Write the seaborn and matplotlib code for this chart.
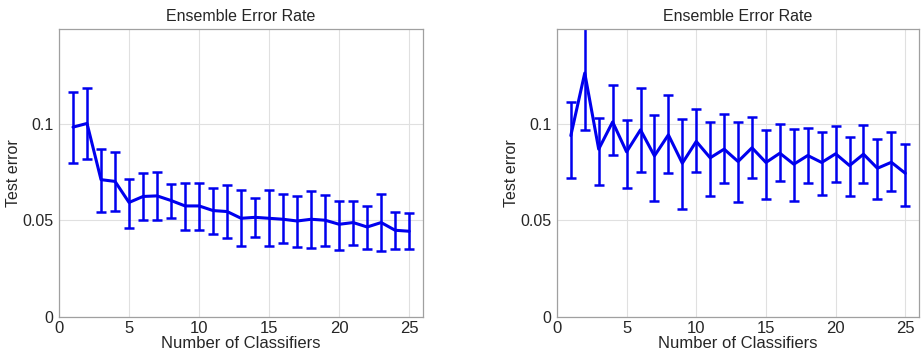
import numpy as np
import pandas as pd
import seaborn as sns
import matplotlib.pyplot as plt

# number of classifiers in the ensemble
n_classifiers = list(range(1, 26))

# left panel: mean test error with lower / upper error bar ends
left_mean = [0.0983, 0.1002, 0.0711, 0.0702, 0.0593, 0.0624, 0.0627, 0.0603, 0.0575, 0.0575,
             0.0551, 0.0546, 0.0511, 0.0516, 0.0511, 0.0506, 0.0497, 0.0506, 0.0501, 0.0480,
             0.0489, 0.0466, 0.0489, 0.0449, 0.0444]
left_upper = [0.1166, 0.1185, 0.0872, 0.0854, 0.0716, 0.0745, 0.0752, 0.0688, 0.0695, 0.0695,
              0.0666, 0.0681, 0.0657, 0.0617, 0.0655, 0.0636, 0.0626, 0.0652, 0.0634, 0.0603,
              0.0603, 0.0575, 0.0638, 0.0544, 0.0539]
left_lower = [0.0795, 0.0816, 0.0546, 0.0549, 0.0461, 0.0504, 0.0503, 0.0510, 0.0451, 0.0451,
              0.0430, 0.0409, 0.0367, 0.0414, 0.0367, 0.0385, 0.0362, 0.0357, 0.0366, 0.0348,
              0.0374, 0.0354, 0.0343, 0.0352, 0.0352]

# right panel
right_mean = [0.0939, 0.1263, 0.0869, 0.1010, 0.0855, 0.0969, 0.0834, 0.0943, 0.0796, 0.0909,
              0.0824, 0.0869, 0.0805, 0.0876, 0.0800, 0.0848, 0.0791, 0.0836, 0.0800, 0.0845,
              0.0784, 0.0843, 0.0770, 0.0801, 0.0744]
right_upper = [0.1115, 0.1530, 0.1030, 0.1199, 0.1019, 0.1188, 0.1047, 0.1150, 0.1026, 0.1078,
               0.1010, 0.1051, 0.1007, 0.1037, 0.0970, 0.0997, 0.0972, 0.0981, 0.0958, 0.0991,
               0.0930, 0.0993, 0.0922, 0.0958, 0.0897]
right_lower = [0.0721, 0.0967, 0.0683, 0.0841, 0.0669, 0.0753, 0.0598, 0.0744, 0.0559, 0.0753,
               0.0624, 0.0695, 0.0594, 0.0718, 0.0611, 0.0704, 0.0598, 0.0695, 0.0632, 0.0700,
               0.0627, 0.0695, 0.0613, 0.0653, 0.0573]

x_ticks = [0, 5, 10, 15, 20, 25]
y_ticks = [0, 0.05, 0.1]
y_tick_labels = ['0', '0.05', '0.1']

sns.set_style('whitegrid')
plt.rcParams['font.family'] = ['Liberation Sans', 'DejaVu Sans']

fig = plt.figure(figsize=(9.22, 3.58), dpi=100)
ax_left = fig.add_axes([0.064, 0.1145, 0.395, 0.804])
ax_right = fig.add_axes([0.604, 0.1145, 0.393, 0.804])

blue = '#0000ee'


def draw_panel(ax, mean, lower, upper):
    df = pd.DataFrame({'n': n_classifiers, 'err': mean})
    sns.lineplot(ax=ax, data=df, x='n', y='err', color=blue, linewidth=2.2)
    yerr = [np.array(mean) - np.array(lower), np.array(upper) - np.array(mean)]
    ax.errorbar(n_classifiers, mean, yerr=yerr, fmt='none', ecolor=blue,
                elinewidth=1.8, capsize=3.5, capthick=1.8)
    ax.set_xlim(0, 26)
    ax.set_ylim(0, 0.149)
    ax.set_xticks(x_ticks)
    ax.set_yticks(y_ticks)
    ax.set_yticklabels(y_tick_labels)
    ax.tick_params(axis='x', labelsize=12, pad=3, length=0)
    ax.tick_params(axis='y', labelsize=11.5, pad=4, length=0)
    ax.grid(True, color='#e0e0e0', linewidth=0.8)
    for s in ax.spines.values():
        s.set_color('#a0a0a0')
        s.set_linewidth(0.9)
    ax.set_title('Ensemble Error Rate', fontsize=11.5, pad=6)
    ax.set_xlabel('Number of Classifiers', fontsize=12, labelpad=0)
    ax.set_ylabel('Test error', fontsize=11.5, labelpad=1)


draw_panel(ax_left, left_mean, left_lower, left_upper)
draw_panel(ax_right, right_mean, right_lower, right_upper)

fig.savefig('out.png', dpi=100)
